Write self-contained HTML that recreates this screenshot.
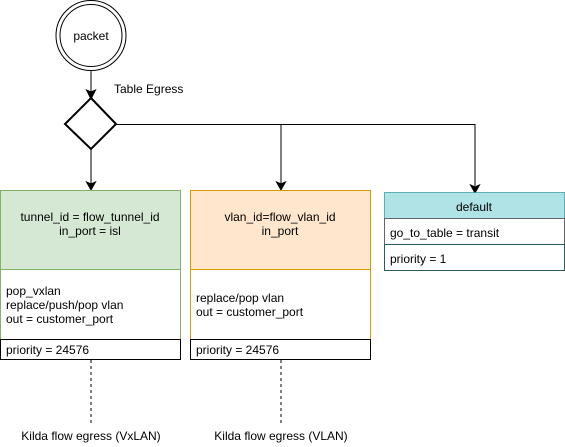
<!DOCTYPE html>
<html><head><meta charset="utf-8"><style>html,body{margin:0;padding:0;background:#fff}svg{display:block}</style></head><body>
<svg width="565" height="447" viewBox="0 0 565 447" xmlns="http://www.w3.org/2000/svg" font-family="Liberation Sans, sans-serif" font-size="12" fill="#000">
<circle cx="91" cy="35.5" r="35" fill="#fff" stroke="#000"/>
<circle cx="91" cy="35.5" r="31" fill="#fff" stroke="#000"/>
<text x="91" y="40" text-anchor="middle">packet</text>
<line x1="91" y1="71" x2="91" y2="92" stroke="#000"/>
<polygon points="86.5,90 91,99 95.5,90 91,92" fill="#000" stroke="#000"/>
<text x="114" y="93">Table Egress</text>
<path d="M91,98 L116,124 L91,149 L65,124 Z" fill="#fff" stroke="#000" stroke-width="2"/>
<line x1="91" y1="149" x2="91" y2="184" stroke="#000"/>
<polygon points="86.5,182 91,190 95.5,182 91,184" fill="#000" stroke="#000"/>
<path d="M116,124.5 L475,124.5 L475,186" fill="none" stroke="#000"/>
<polygon points="470.5,185 475,193 479.5,185 475,187" fill="#000" stroke="#000"/>
<line x1="281" y1="124" x2="281" y2="184" stroke="#000"/>
<polygon points="276.5,182 281,190 285.5,182 281,184" fill="#000" stroke="#000"/>
<rect x="0.5" y="190.5" width="180" height="79" fill="#d5e8d4" stroke="#82b366"/>
<rect x="0.5" y="269.5" width="180" height="70" fill="#fff" stroke="#82b366"/>
<rect x="0.5" y="339.5" width="180" height="20" fill="#fff" stroke="#000"/>
<text x="90" y="221" text-anchor="middle">tunnel_id = flow_tunnel_id</text>
<text x="90" y="235" text-anchor="middle">in_port = isl</text>
<text x="6" y="295">pop_vxlan</text>
<text x="6" y="309">replace/push/pop vlan</text>
<text x="6" y="323">out = customer_port</text>
<text x="6" y="354">priority = 24576</text>
<rect x="190.5" y="190.5" width="180" height="79" fill="#ffe6cc" stroke="#d79b00"/>
<rect x="190.5" y="269.5" width="180" height="70" fill="#fff" stroke="#d79b00"/>
<rect x="190.5" y="339.5" width="180" height="20" fill="#fff" stroke="#000"/>
<text x="280" y="221" text-anchor="middle">vlan_id=flow_vlan_id</text>
<text x="280" y="235" text-anchor="middle">in_port</text>
<text x="196" y="302">replace/pop vlan</text>
<text x="196" y="316">out = customer_port</text>
<text x="196" y="354">priority = 24576</text>
<rect x="384.5" y="192.5" width="180" height="26" fill="#b0e3e6" stroke="#0e8088" stroke-opacity="0.6"/>
<rect x="384.5" y="218.5" width="180" height="26" fill="#fff" stroke="#666"/>
<rect x="384.5" y="244.5" width="180" height="26" fill="#fff" stroke="#2f5b5e"/>
<text x="474" y="211" text-anchor="middle">default</text>
<text x="390" y="237">go_to_table = transit</text>
<text x="390" y="263">priority = 1</text>
<line x1="91" y1="360" x2="91" y2="424" stroke="#000" stroke-dasharray="3,3"/>
<line x1="281" y1="360" x2="281" y2="424" stroke="#000" stroke-dasharray="3,3"/>
<text x="91" y="440" text-anchor="middle">Kilda flow egress (VxLAN)</text>
<text x="281" y="440" text-anchor="middle">Kilda flow egress (VLAN)</text>
</svg>
</body></html>
